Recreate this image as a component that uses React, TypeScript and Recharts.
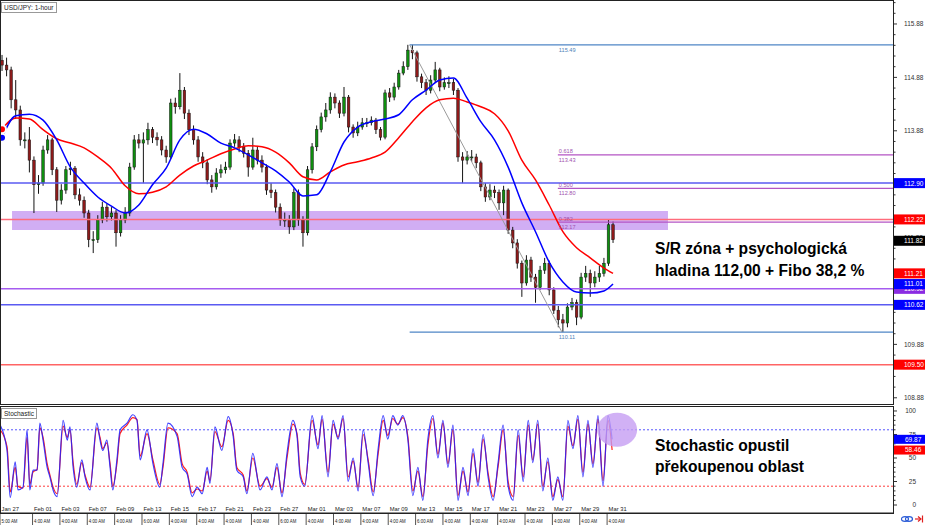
import React from 'react';
import { ComposedChart, LineChart, Bar, Line, XAxis, YAxis, ReferenceLine, ReferenceArea, ReferenceDot } from 'recharts';

const FONT = '"Liberation Sans", Arial, sans-serif';

// ---- price candles (one candle = 8 hours) ----
const firstOpen = 115.2;
const closes = [
  115.11, 115.02, 114.46, 114.27, 113.71, 113.71, 113.33, 112.87, 112.9, 113.52,
  113.71, 113.15, 112.58, 112.77, 113.15, 113.18, 112.68, 112.58, 112.34, 111.84,
  111.84, 112.21, 112.45, 112.27, 112.34, 111.97, 112.21, 112.34, 113.2, 113.71,
  113.65, 113.71, 113.9, 113.76, 113.71, 113.52, 113.39, 114.4, 114.33, 114.64,
  114.21, 113.9, 113.71, 113.39, 113.28, 112.96, 112.83, 113.09, 113.15, 113.2,
  113.65, 113.71, 113.58, 113.46, 113.2, 113.52, 113.33, 113.2, 112.77, 112.72,
  112.45, 112.21, 112.21, 112.08, 112.72, 112.21, 111.97, 113.15, 113.58, 113.9,
  114.14, 114.27, 114.51, 114.4, 114.21, 114.51, 113.95, 113.84, 113.95, 114.03,
  114.03, 114.08, 113.9, 113.76, 114.59, 114.51, 114.7, 114.96, 115.08, 115.39,
  115.34, 114.89, 114.78, 114.64, 114.83, 115.02, 114.7, 114.78, 114.78, 114.64,
  113.39, 113.33, 113.39, 113.39, 113.28, 112.83, 112.64, 112.77, 112.72, 112.53,
  112.77, 112.02, 111.78, 111.4, 111.03, 111.46, 111.14, 110.95, 111.27, 111.4,
  110.9, 110.52, 110.34, 110.28, 110.58, 110.66, 110.39, 111.14, 111.21, 111.03,
  111.14, 111.21, 111.4, 112.12, 111.84,
];
const highs = [
  115.3, 115.25, 115.08, 114.83, 114.35, 113.85, 113.95, 113.4, 113.05, 113.6,
  113.8, 113.75, 113.2, 112.88, 113.22, 113.3, 113.22, 112.8, 112.65, 112.4,
  112.0, 112.3, 112.55, 112.52, 112.45, 112.4, 112.3, 112.45, 113.28, 113.8,
  113.82, 113.85, 114.03, 113.95, 113.85, 113.78, 113.6, 114.48, 114.5, 114.96,
  114.7, 114.28, 113.98, 113.78, 113.48, 113.35, 113.05, 113.18, 113.25, 113.3,
  113.72, 113.82, 113.78, 113.65, 113.52, 113.75, 113.58, 113.42, 113.25, 112.9,
  112.78, 112.52, 112.35, 112.3, 112.8, 112.78, 112.28, 113.22, 113.65, 113.98,
  114.22, 114.4, 114.6, 114.58, 114.45, 114.7, 114.55, 114.0, 114.05, 114.12,
  114.12, 114.15, 114.12, 113.95, 114.65, 114.68, 114.78, 115.02, 115.18, 115.49,
  115.49, 115.38, 114.95, 114.85, 114.92, 115.17, 115.06, 114.88, 114.9, 114.85,
  114.68, 113.48, 113.5, 113.52, 113.45, 113.32, 112.9, 112.88, 112.85, 112.78,
  112.85, 112.8, 112.08, 111.85, 111.45, 111.55, 111.52, 111.2, 111.35, 111.5,
  111.45, 110.95, 110.6, 110.45, 110.65, 110.75, 110.72, 111.22, 111.35, 111.28,
  111.25, 111.35, 111.5, 112.22, 112.18,
];
const lows = [
  115.0, 114.9, 114.3, 114.1, 113.6, 113.55, 113.1, 112.34, 112.7, 112.85,
  113.45, 113.05, 112.36, 112.5, 112.7, 113.05, 112.6, 112.48, 112.25, 111.7,
  111.59, 111.78, 112.15, 112.18, 112.2, 111.71, 111.9, 112.15, 112.28, 113.15,
  113.55, 112.9, 113.62, 113.65, 113.6, 113.42, 113.28, 113.35, 114.2, 114.28,
  114.1, 113.8, 113.62, 113.3, 113.18, 112.88, 112.72, 112.78, 113.0, 113.08,
  113.15, 113.58, 113.48, 113.38, 113.02, 113.15, 113.25, 113.1, 112.68, 112.62,
  112.35, 112.1, 112.08, 111.95, 112.02, 112.1, 111.71, 111.92, 113.08, 113.5,
  113.85, 114.05, 114.2, 114.3, 114.12, 114.15, 113.85, 113.75, 113.78, 113.9,
  113.95, 113.98, 113.82, 113.7, 113.72, 114.42, 114.45, 114.65, 114.92, 115.02,
  115.22, 114.8, 114.68, 114.55, 114.58, 114.78, 114.62, 114.65, 114.68, 114.55,
  113.3, 112.9, 113.25, 113.3, 113.18, 112.75, 112.55, 112.58, 112.62, 112.4,
  112.3, 111.95, 111.68, 111.3, 110.77, 110.98, 111.05, 110.66, 110.9, 111.2,
  110.8, 110.45, 110.2, 110.11, 110.2, 110.52, 110.24, 110.35, 111.05, 110.77,
  110.95, 111.05, 111.15, 111.35, 111.78,
];

// ---- moving averages, read every 3 candles ----
const maIdx = [0, 3, 6, 9, 12, 15, 18, 21, 24, 27, 30, 33, 36, 39, 42, 45, 48, 51, 54, 57, 60, 63, 66, 69, 72, 75, 78, 81, 84, 87, 90, 93, 96, 99, 102, 105, 108, 111, 114, 117, 120, 123, 126, 129, 132, 134];
const maBlue = [
  113.75, 114.16, 114.19, 114.08, 113.71, 113.2, 112.9, 112.64, 112.47, 112.34,
  112.49, 112.87, 113.18, 113.71, 113.91, 113.82, 113.65, 113.56, 113.43, 113.28,
  113.13, 112.92, 112.66, 112.68, 113.11, 113.67, 113.95, 114.05, 114.1, 114.18,
  114.46, 114.64, 114.83, 114.87, 114.49, 114.05, 113.71, 113.2, 112.53, 111.99,
  111.42, 111.05, 110.86, 110.84, 110.88, 111.01,
];
const maRed = [
  113.91, 114.12, 114.1, 113.9, 113.73, 113.65, 113.56, 113.39, 113.18, 112.85,
  112.7, 112.73, 112.83, 113.05, 113.22, 113.33, 113.45, 113.54, 113.6, 113.58,
  113.48, 113.28, 113.02, 112.96, 113.11, 113.24, 113.3, 113.37, 113.48, 113.75,
  114.05, 114.31, 114.46, 114.49, 114.42, 114.33, 114.2, 113.88, 113.33, 112.96,
  112.49, 111.99, 111.69, 111.5, 111.31, 111.21,
];

// ---- stochastic turning points ----
const stochIdx = [
  -0.4, 1.1, 1.8, 2.9, 3.5, 4.6, 5.5, 6.1, 6.8, 7.7,
  8.3, 9.0, 9.9, 10.5, 11.2, 12.1, 13.4, 14.3, 14.9, 15.6,
  16.4, 17.5, 18.2, 19.3, 20.8, 21.5, 22.1, 23.0, 23.7, 24.3,
  25.2, 25.9, 27.4, 28.7, 29.6, 30.3, 31.8, 33.1, 34.6, 35.3,
  36.4, 38.4, 39.5, 40.6, 41.7, 42.8, 43.9, 45.0, 45.6, 46.7,
  48.2, 49.6, 50.7, 51.5, 52.9, 53.7, 55.0, 56.6, 58.1, 59.2,
  60.3, 61.4, 62.5, 63.8, 64.7, 65.4, 66.4, 68.0, 69.3, 70.2,
  71.5, 72.6, 73.7, 74.8, 75.9, 77.0, 78.1, 79.2, 80.3, 81.4,
  82.5, 83.6, 84.6, 85.7, 86.8, 87.9, 89.0, 90.1, 91.2, 92.3,
  93.4, 94.5, 95.6, 96.7, 97.8, 98.9, 100.0, 101.1, 102.2, 103.3,
  104.4, 105.5, 106.6, 107.7, 108.8, 109.9, 111.0, 112.1, 113.2, 114.3,
  115.4, 116.4, 117.5, 118.6, 119.7, 120.8, 121.9, 123.0, 124.1, 125.2,
  126.3, 127.4, 128.5, 129.6, 130.7, 131.8, 132.9, 133.8,
];
const stochK = [
  85, 58, 8, 46, 16, 19, 80, 16, 37, 37,
  87, 69, 40, 30, 16, 9, 90, 69, 83, 40,
  19, 48, 30, 16, 87, 69, 58, 69, 40, 16,
  48, 80, 87, 96, 90, 48, 80, 44, 19, 44,
  87, 73, 40, 33, 9, 19, 12, 40, 23, 83,
  58, 94, 73, 37, 30, 12, 55, 16, 30, 16,
  44, 9, 55, 90, 73, 30, 20, 95, 60, 95,
  30, 90, 70, 95, 25, 50, 15, 80, 45, 10,
  60, 95, 70, 95, 85, 95, 70, 10, 40, 5,
  70, 95, 50, 90, 40, 85, 5, 40, 10, 60,
  20, 75, 30, 5, 45, 85, 20, 5, 80, 25,
  90, 45, 90, 15, 50, 5, 30, 5, 90, 60,
  95, 30, 90, 40, 95, 20, 95, 69.87,
];
const stochD = [
  80, 62, 14, 40, 20, 18, 72, 22, 35, 38,
  82, 72, 44, 32, 19, 12, 84, 72, 80, 45,
  22, 45, 32, 19, 82, 72, 60, 66, 44, 20,
  44, 76, 85, 93, 91, 52, 76, 48, 22, 40,
  82, 76, 44, 35, 13, 17, 15, 36, 26, 78,
  62, 90, 76, 40, 32, 15, 50, 20, 28, 19,
  40, 13, 50, 86, 76, 34, 22, 90, 64, 91,
  35, 86, 72, 92, 30, 47, 19, 75, 48, 14,
  55, 90, 74, 92, 86, 93, 73, 15, 36, 9,
  64, 92, 54, 87, 44, 80, 10, 36, 14, 55,
  24, 70, 34, 9, 41, 80, 25, 9, 74, 30,
  85, 48, 86, 20, 46, 9, 27, 9, 84, 63,
  91, 35, 86, 44, 91, 26, 90, 58.46,
];

// ---- time axis ----
const dateTickIdx = [-0.44, 6.7, 12.7, 18.7, 24.7, 30.7, 36.7, 42.7, 48.7, 54.7, 60.7, 66.7, 72.7, 78.7, 84.7, 90.7, 96.7, 102.7, 108.7, 114.7, 120.7, 126.7, 132.7];
const dateLabels = ['Jan 27', 'Feb 01', 'Feb 03', 'Feb 07', 'Feb 09', 'Feb 13', 'Feb 15', 'Feb 17', 'Feb 21', 'Feb 23', 'Feb 27', 'Mar 01', 'Mar 03', 'Mar 07', 'Mar 09', 'Mar 13', 'Mar 15', 'Mar 17', 'Mar 21', 'Mar 23', 'Mar 27', 'Mar 29', 'Mar 31'];
const timeLabels = ['5:00 AM', '4:00 AM', '4:00 AM', '4:00 AM', '4:00 AM', '6:00 AM', '4:00 AM', '4:00 AM', '4:00 AM', '4:00 AM', '6:00 AM', '4:00 AM', '4:00 AM', '4:00 AM', '4:00 AM', '6:00 AM', '4:00 AM', '4:00 AM', '4:00 AM', '4:00 AM', '4:00 AM', '4:00 AM', '4:00 AM'];

// ---- price axis ----
const majorPrices = [108.88, 109.88, 110.88, 111.88, 112.88, 113.88, 114.88, 115.88];
const minorPrices = Array.from({ length: 38 }, (_, k) => Math.round((108.88 + 0.2 * k) * 100) / 100);
const badgeValues = [112.9, 112.22, 111.82, 111.21, 110.92, 111.01, 110.62, 109.5];
const badgeColors = ['#0000ff', '#ff0000', '#000000', '#ff0000', '#8a2be2', '#0000ff', '#0000ff', '#ff0000'];

// ---- levels ----
const fullLevels = [112.9, 112.22, 110.92, 110.62, 109.5];
const fullLevelColors = ['#5a5af2', '#ff6b7b', '#a55cf0', '#5a5af2', '#ff6464'];
const swingHigh = 115.49;
const swingLow = 110.11;
const swingStartIdx = 89.4;
const swingEndIdx = 122.8;
const fibRatios = ['0.618', '0.500', '0.382'];
const fibPrices = [113.43, 112.8, 112.17];
const fibStartIdx = 121.9;
const zoneIdx = [2.2, 146.05];
const zonePrices = [112.02, 112.38];

const stochTicks = [0, 5, 10, 15, 20, 25, 30, 35, 40, 45, 50, 55, 60, 65, 70, 75, 80, 85, 90, 95, 100];
const stochMajor = [0, 25, 50, 75, 100];
const stochBadgeValues = [69.87, 58.46];
const stochBadgeColors = ['#0000ff', '#ff0000'];

const X_DOMAIN: [number, number] = [-0.44, 195.4];

const candles = closes.map((c, i) => ({
  i,
  open: i === 0 ? firstOpen : closes[i - 1],
  close: c,
  high: highs[i],
  low: lows[i],
  range: [lows[i], highs[i]],
}));
const blueData = maIdx.map((i, k) => ({ i, v: maBlue[k] }));
const redData = maIdx.map((i, k) => ({ i, v: maRed[k] }));
const stochData = stochIdx.map((i, k) => ({ i, k: stochK[k], d: stochD[k] }));

const Candle = (props: any) => {
  const { x, y, width, height, payload } = props;
  if (x == null || y == null) return null;
  const top = Math.min(y, y + height);
  const bot = Math.max(y, y + height);
  const { open, close, high, low } = payload;
  const span = high - low || 1;
  const py = (p: number) => top + ((high - p) / span) * (bot - top);
  const cx = x + width / 2;
  const up = close >= open;
  const bTop = py(Math.max(open, close));
  const bBot = py(Math.min(open, close));
  return (
    <g>
      <line x1={cx} x2={cx} y1={top} y2={bot} stroke="#151515" strokeWidth={1} />
      <rect x={x} y={bTop} width={width} height={Math.max(1, bBot - bTop)} fill={up ? '#0f8f0f' : '#8e1a1a'} stroke="#151515" strokeWidth={0.5} />
    </g>
  );
};

const PriceTick = (props: any) => {
  const { x, y, payload } = props;
  const v = payload.value;
  const bi = badgeValues.findIndex((b) => Math.abs(b - v) < 0.0001);
  if (bi >= 0) {
    return (
      <g>
        <rect x={x + 1} y={y - 5} width={31} height={10} fill={badgeColors[bi]} />
        <text x={x + 11} y={y + 2.4} fontSize={6.5} fill="#fff" fontFamily={FONT}>{v.toFixed(2)}</text>
      </g>
    );
  }
  const major = majorPrices.some((m) => Math.abs(m - v) < 0.0001);
  return (
    <g>
      <line x1={x} x2={x + (major ? 4 : 2.5)} y1={y} y2={y} stroke="#333" strokeWidth={1} />
      {major && <text x={x + 11} y={y + 2.4} fontSize={6.5} fill="#333" fontFamily={FONT}>{v.toFixed(2)}</text>}
    </g>
  );
};

const StochTick = (props: any) => {
  const { x, y, payload } = props;
  const v = payload.value;
  const bi = stochBadgeValues.findIndex((b) => Math.abs(b - v) < 0.0001);
  if (bi >= 0) {
    return (
      <g>
        <rect x={x + 1} y={y - 4.5} width={31} height={9} fill={stochBadgeColors[bi]} />
        <text x={x + 12} y={y + 2.4} fontSize={6.5} fill="#fff" fontFamily={FONT}>{v.toFixed(2)}</text>
      </g>
    );
  }
  const major = stochMajor.includes(v);
  return (
    <g>
      <line x1={x} x2={x + (major ? 4 : 2.5)} y1={y} y2={y} stroke="#333" strokeWidth={1} />
      {major && <text x={x + 23} y={y + 2.4} fontSize={6.5} fill="#333" textAnchor="end" fontFamily={FONT}>{v}</text>}
    </g>
  );
};

const DateTick = (props: any) => {
  const { x, y, index } = props;
  return (
    <g>
      <line x1={x} x2={x} y1={y} y2={y + 12} stroke="#555" strokeWidth={1} />
      <text x={x + 1.5} y={y - 2} fontSize={5.8} fill="#222" fontFamily={FONT}>{dateLabels[index]}</text>
      <text x={x + 1.5} y={y + 9.5} fontSize={6.2} fill="#222" fontFamily={FONT} textLength={16} lengthAdjust="spacingAndGlyphs">{timeLabels[index]}</text>
    </g>
  );
};

const LevelText = (color: string, above: string | null, below: string) => (p: any) => (
  <g>
    {above && <text x={p.cx + 1} y={p.cy - 1.5} fontSize={5.6} fill={color} fontFamily={FONT}>{above}</text>}
    <text x={p.cx + 1} y={p.cy + 6.8} fontSize={5.6} fill={color} fontFamily={FONT}>{below}</text>
  </g>
);

const priceTicks = [...minorPrices, ...badgeValues];
const stochAxisTicks = [...stochTicks, ...stochBadgeValues];

export default function App() {
  return (
    <div style={{ position: 'absolute', left: 0, top: 0, width: 925, height: 525, background: '#fff', overflow: 'hidden', fontFamily: FONT }}>
      <div style={{ position: 'absolute', left: 0, top: 0 }}>
        <ComposedChart width={925} height={405} data={candles} margin={{ top: 0, right: 0, bottom: 0, left: 0 }}>
          <XAxis dataKey="i" type="number" domain={X_DOMAIN} allowDataOverflow hide />
          <YAxis orientation="right" width={32} type="number" domain={[108.745, 116.329]} allowDataOverflow ticks={priceTicks} interval={0} tick={PriceTick} tickLine={false} axisLine={false} tickSize={0} tickMargin={0} />
          {fullLevels.map((v, k) => (
            <ReferenceLine key={'fl' + k} y={v} stroke={fullLevelColors[k]} strokeWidth={1.5} />
          ))}
          <ReferenceLine segment={[{ x: swingStartIdx, y: swingHigh }, { x: X_DOMAIN[1], y: swingHigh }]} stroke="#4f86c6" strokeWidth={1.2} />
          <ReferenceLine segment={[{ x: swingStartIdx, y: swingLow }, { x: X_DOMAIN[1], y: swingLow }]} stroke="#4f86c6" strokeWidth={1.2} />
          {fibPrices.map((v, k) => (
            <ReferenceLine key={'fib' + k} segment={[{ x: fibStartIdx, y: v }, { x: X_DOMAIN[1], y: v }]} stroke="#b455c4" strokeWidth={1.2} />
          ))}
          <ReferenceLine segment={[{ x: swingStartIdx, y: swingHigh }, { x: swingEndIdx, y: swingLow }]} stroke="#9a9a9a" strokeWidth={1} />
          <Bar dataKey="range" barSize={2.6} shape={Candle} isAnimationActive={false} />
          <Line data={redData} dataKey="v" type="monotone" stroke="#ff0000" strokeWidth={1.5} dot={false} isAnimationActive={false} />
          <Line data={blueData} dataKey="v" type="monotone" stroke="#0000ff" strokeWidth={1.5} dot={false} isAnimationActive={false} />
          <ReferenceArea x1={zoneIdx[0]} x2={zoneIdx[1]} y1={zonePrices[0]} y2={zonePrices[1]} fill="#b57ded" fillOpacity={0.62} stroke="none" />
          <ReferenceDot x={fibStartIdx} y={swingHigh} r={0} shape={LevelText('#4f7fb8', null, swingHigh.toFixed(2))} />
          <ReferenceDot x={fibStartIdx} y={swingLow} r={0} shape={LevelText('#4f7fb8', null, swingLow.toFixed(2))} />
          {fibPrices.map((v, k) => (
            <ReferenceDot key={'fl' + k} x={fibStartIdx} y={v} r={0} shape={LevelText('#a052ae', fibRatios[k], v.toFixed(2))} />
          ))}
        </ComposedChart>
      </div>
      <div style={{ position: 'absolute', left: 0, top: 406 }}>
        <LineChart width={925} height={119} data={stochData} margin={{ top: 0, right: 0, bottom: 0, left: 0 }}>
          <XAxis dataKey="i" type="number" domain={X_DOMAIN} allowDataOverflow ticks={dateTickIdx} interval={0} height={12} tick={DateTick} tickLine={false} axisLine={{ stroke: '#222' }} tickSize={0} tickMargin={0} />
          <YAxis orientation="right" width={32} type="number" domain={[-8.5, 105.3]} allowDataOverflow ticks={stochAxisTicks} interval={0} tick={StochTick} tickLine={false} axisLine={false} tickSize={0} tickMargin={0} />
          <ReferenceLine y={80} stroke="#5555ff" strokeDasharray="2 2" strokeWidth={1} />
          <ReferenceLine y={20} stroke="#ff3b3b" strokeDasharray="2 2" strokeWidth={1} />
          <Line dataKey="d" type="monotone" stroke="#ff2020" strokeWidth={1.2} dot={false} isAnimationActive={false} />
          <Line dataKey="k" type="monotone" stroke="#2020ff" strokeWidth={1.2} strokeOpacity={0.85} dot={false} isAnimationActive={false} />
          <ReferenceDot x={134.9} y={80} r={0} shape={(p: any) => <ellipse cx={p.cx} cy={p.cy} rx={20} ry={17} fill="#c59ef2" fillOpacity={0.8} />} />
        </LineChart>
      </div>
      {/* panel frames */}
      <div style={{ position: 'absolute', left: 0, top: 0, width: 894, height: 405, boxSizing: 'border-box', border: '1px solid #222', pointerEvents: 'none' }} />
      <div style={{ position: 'absolute', left: 0, top: 406, width: 894, height: 108, boxSizing: 'border-box', border: '1px solid #222', pointerEvents: 'none' }} />
      <div style={{ position: 'absolute', left: 1, top: 2, fontSize: 6.5, lineHeight: '9px', padding: '0 2px', border: '1px solid #999', background: '#fff', color: '#222' }}>USD/JPY: 1-hour</div>
      <div style={{ position: 'absolute', left: 1, top: 408, fontSize: 6.5, lineHeight: '9px', padding: '0 2px', border: '1px solid #999', background: '#fff', color: '#222' }}>Stochastic</div>
      <div style={{ position: 'absolute', left: 655, top: 238, fontSize: 15.6, fontWeight: 'bold', lineHeight: '22px', color: '#000', whiteSpace: 'nowrap' }}>
        S/R zóna + psychologická<br />hladina 112,00 + Fibo 38,2 %
      </div>
      <div style={{ position: 'absolute', left: 655, top: 435, fontSize: 15.6, fontWeight: 'bold', lineHeight: '21px', color: '#000', whiteSpace: 'nowrap' }}>
        Stochastic opustil<br />překoupenou oblast
      </div>
      <svg style={{ position: 'absolute', left: 898, top: 513 }} width={27} height={12}>
        <ellipse cx={7} cy={6} rx={3.5} ry={2.3} fill="none" stroke="#2a5bd7" strokeWidth={1.2} />
        <ellipse cx={11} cy={6} rx={3.5} ry={2.3} fill="none" stroke="#2a5bd7" strokeWidth={1.2} />
        <line x1={17} y1={6} x2={23} y2={6} stroke="#e02020" strokeWidth={1.2} />
        <polyline points="20,3.5 23,6 20,8.5" fill="none" stroke="#e02020" strokeWidth={1.2} />
        <line x1={24.5} y1={2.5} x2={24.5} y2={9.5} stroke="#e02020" strokeWidth={1.2} />
      </svg>
    </div>
  );
}
